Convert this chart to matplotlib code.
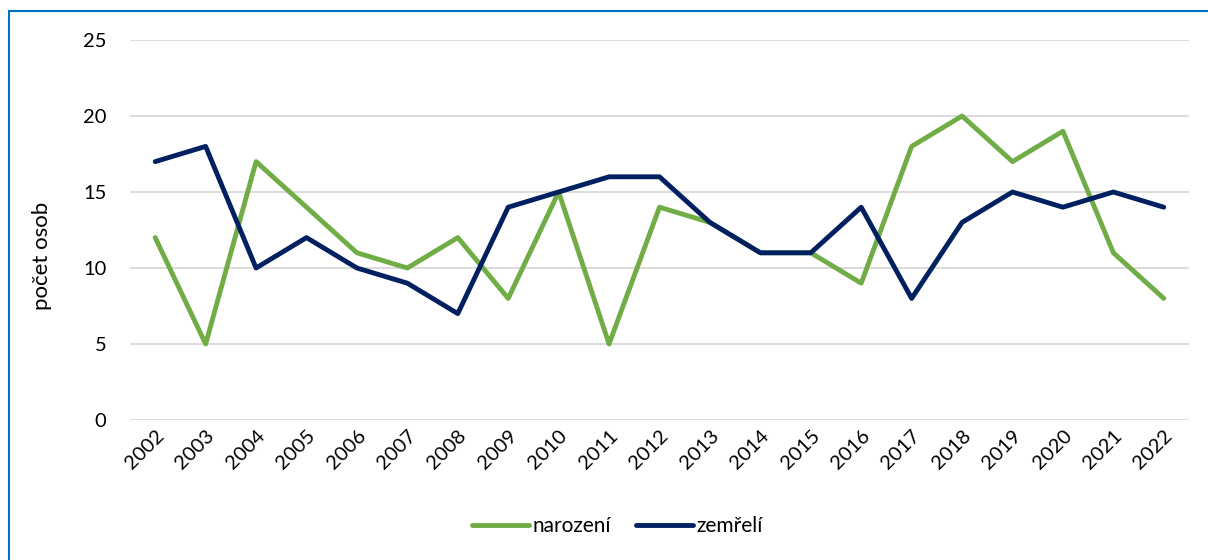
import matplotlib
matplotlib.use("Agg")
from matplotlib import pyplot as plt
from matplotlib.patches import Rectangle

years = [str(y) for y in range(2002, 2023)]
narozeni = [12, 5, 17, 14, 11, 10, 12, 8, 15, 5, 14, 13, 11, 11, 9, 18, 20, 17, 19, 11, 8]
zemreli = [17, 18, 10, 12, 10, 9, 7, 14, 15, 16, 16, 13, 11, 11, 14, 8, 13, 15, 14, 15, 14]
yticks = [0, 5, 10, 15, 20, 25]

plt.rcParams['font.family'] = ['Lato', 'DejaVu Sans']

W, H = 1208, 560
fig = plt.figure(figsize=(W / 100, H / 100), dpi=100)
fig.patch.set_facecolor('white')

# outer frame (clipped on the right and bottom as in the source)
fig.add_artist(Rectangle((9 / W, -0.1), 1.2, (H - 11) / H + 0.1,
                         transform=fig.transFigure, fill=False,
                         edgecolor='#0070C0', lw=1.5))

ax = fig.add_axes([130 / W, 1 - 420 / H, (1189 - 130) / W, (420 - 40) / H])
x = list(range(len(years)))
ax.plot(x, narozeni, color='#70AD47', lw=3.5, label='narození', zorder=3,
        solid_capstyle='round')
ax.plot(x, zemreli, color='#002060', lw=3.5, label='zemřelí', zorder=3,
        solid_capstyle='round')

ax.set_xlim(-0.5, len(years) - 0.5)
ax.set_ylim(0, 25)
ax.set_yticks(yticks)
ax.set_xticks(x)
ax.set_xticklabels(years, rotation=45, ha='right', rotation_mode='anchor')
ax.yaxis.grid(True, color='#D9D9D9', lw=1.3)
ax.set_axisbelow(True)
ax.tick_params(axis='both', length=0, labelsize=14.5, colors='black')
ax.tick_params(axis='y', pad=17)
ax.tick_params(axis='x', pad=5)
for spine in ['top', 'bottom', 'left', 'right']:
    ax.spines[spine].set_visible(False)

ax.set_ylabel('počet osob', fontsize=16)
ax.yaxis.set_label_coords(-0.074, 0.432)

fig.legend(loc='center', bbox_to_anchor=(617 / W, 1 - 526 / H), ncol=2,
           frameon=False, fontsize=15, handlelength=2.75, handletextpad=0.15,
           columnspacing=1.2)

fig.savefig('out.png', dpi=100)
